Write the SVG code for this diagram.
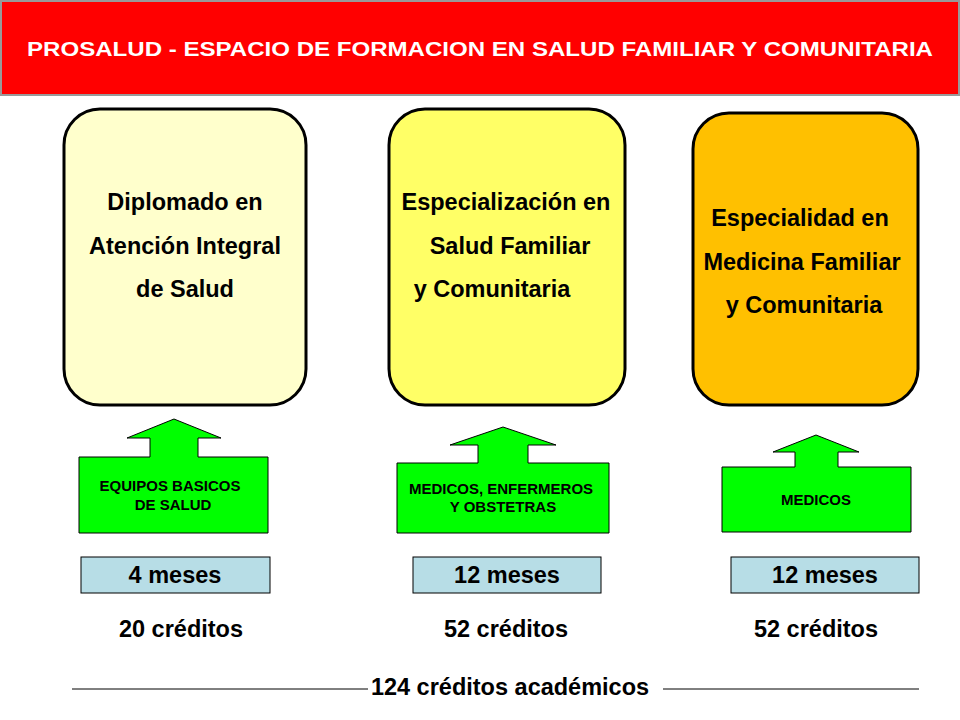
<svg xmlns="http://www.w3.org/2000/svg" width="960" height="720" viewBox="0 0 960 720">
<style>
text{font-family:"Liberation Sans",Arial,sans-serif;font-weight:bold;fill:#000}
.card{stroke:#000;stroke-width:3}
.ar{fill:#00ff00;stroke:#000;stroke-width:1}
.sm{font-size:15px}
.big{font-size:23.5px}
.mes{fill:#b7dde6;stroke:#000;stroke-width:1}
</style>
<rect width="960" height="720" fill="#fff"/>
<g id="header"><rect x="1" y="1" width="958" height="94" fill="#ff0000" stroke="#999" stroke-width="2"/>
<text x="480" y="56" text-anchor="middle" font-size="20" textLength="906" lengthAdjust="spacingAndGlyphs" style="fill:#fff">PROSALUD  - ESPACIO DE FORMACION EN SALUD FAMILIAR Y COMUNITARIA</text></g>
<g id="n1"><rect class="card" x="64" y="109" width="242" height="296" rx="36" fill="#ffffcc"/>
<text class="big" text-anchor="middle" x="185"><tspan x="185" y="210">Diplomado en</tspan><tspan x="185" y="254">Atención Integral</tspan><tspan x="185" y="297">de Salud</tspan></text></g>
<g id="n2"><rect class="card" x="389" y="109" width="236" height="296" rx="36" fill="#ffff66"/>
<text class="big" text-anchor="middle"><tspan x="506" y="210">Especialización en</tspan><tspan x="510" y="254">Salud Familiar</tspan><tspan x="492" y="297">y Comunitaria</tspan></text></g>
<g id="n3"><rect class="card" x="693" y="113" width="225" height="292" rx="36" fill="#ffc000"/>
<text class="big" text-anchor="middle"><tspan x="800" y="226">Especialidad en</tspan><tspan x="802" y="270">Medicina Familiar</tspan><tspan x="804" y="313">y Comunitaria</tspan></text></g>
<g id="a1"><path class="ar" d="M79,457H150V438H127L174,419L221,438H198V457H268V533H79Z"/>
<text class="sm" text-anchor="middle"><tspan x="170" y="491">EQUIPOS BASICOS</tspan><tspan x="173" y="510">DE SALUD</tspan></text></g>
<g id="a2"><path class="ar" d="M397,463H478V445H450L503,427L556,445H528V463H609V533H397Z"/>
<text class="sm" text-anchor="middle"><tspan x="501" y="494">MEDICOS, ENFERMEROS</tspan><tspan x="503" y="512">Y OBSTETRAS</tspan></text></g>
<g id="a3"><path class="ar" d="M722,467H795V452H773L816,435L859,452H838V467H911V532H722Z"/>
<text class="sm" text-anchor="middle" x="816" y="505">MEDICOS</text></g>
<g id="m1"><rect class="mes" x="81" y="557" width="189" height="36"/><text class="big" text-anchor="middle" x="175" y="583">4 meses</text></g>
<g id="m2"><rect class="mes" x="413" y="557" width="188" height="36"/><text class="big" text-anchor="middle" x="507" y="583">12 meses</text></g>
<g id="m3"><rect class="mes" x="731" y="557" width="188" height="36"/><text class="big" text-anchor="middle" x="825" y="583">12 meses</text></g>
<g id="credits"><text class="big" text-anchor="middle" x="181" y="637">20 créditos</text>
<text class="big" text-anchor="middle" x="506" y="637">52 créditos</text>
<text class="big" text-anchor="middle" x="816" y="637">52 créditos</text>
<text class="big" text-anchor="middle" x="510" y="695">124 créditos académicos</text></g>
<g id="connectors" stroke="#000" stroke-width="1"><line x1="72" y1="689" x2="368" y2="689"/><line x1="663" y1="689" x2="919" y2="689"/></g>
</svg>
